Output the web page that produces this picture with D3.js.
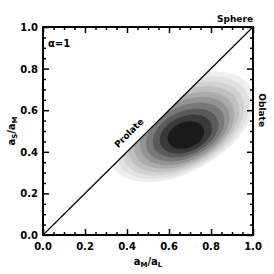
<!DOCTYPE html>
<html>
<head>
  <script src="https://d3js.org/d3.v7.min.js"></script>
  <style>
    body { margin: 0; background: #fff; }
    text { font-family: "DejaVu Sans", sans-serif; font-weight: bold; fill: #000; }
  </style>
</head>
<body>
<div id="chart"></div>
<script>
// axis ticks
const majorTicks = [0.0, 0.2, 0.4, 0.6, 0.8, 1.0];
const tickLabels = ["0.0", "0.2", "0.4", "0.6", "0.8", "1.0"];

// density contours, outer to inner, read as ellipses in data units
const ringCx    = [0.66, 0.663, 0.666, 0.669, 0.672, 0.675, 0.677, 0.679, 0.68, 0.68];
const ringCy    = [0.52, 0.516, 0.512, 0.508, 0.504, 0.50, 0.495, 0.49, 0.485, 0.48];
const ringRx    = [0.38, 0.35, 0.32, 0.29, 0.26, 0.23, 0.20, 0.165, 0.13, 0.09];
const ringRy    = [0.215, 0.20, 0.185, 0.17, 0.155, 0.14, 0.122, 0.104, 0.085, 0.062];
const ringAngle = [30, 30, 30, 30, 29, 28, 27, 25, 23, 20];
const ringGray  = ["#eeeeee", "#e1e1e1", "#d2d2d2", "#c0c0c0", "#ababab", "#939393", "#787878", "#5a5a5a", "#393939", "#1a1a1a"];

const margin = { top: 27, right: 21, bottom: 39, left: 43 };
const width = 274 - margin.left - margin.right;
const height = 274 - margin.top - margin.bottom;

const svg = d3.select("#chart")
  .append("svg")
  .attr("width", 274)
  .attr("height", 274);

const g = svg.append("g")
  .attr("transform", `translate(${margin.left},${margin.top})`);

const x = d3.scaleLinear().domain([0, 1]).range([0, width]);
const y = d3.scaleLinear().domain([0, 1]).range([height, 0]);

// clip to the region below the diagonal
g.append("clipPath").attr("id", "tri")
  .append("path")
  .attr("d", `M${x(0)},${y(0)}L${x(1)},${y(1)}L${x(1)},${y(0)}Z`);

const ellipsePath = i => {
  const a = ringAngle[i] * Math.PI / 180;
  const pts = d3.range(0, 361, 4).map(t => {
    const r = t * Math.PI / 180;
    const ex = ringRx[i] * Math.cos(r), ey = ringRy[i] * Math.sin(r);
    return [x(ringCx[i] + ex * Math.cos(a) - ey * Math.sin(a)),
            y(ringCy[i] + ex * Math.sin(a) + ey * Math.cos(a))];
  });
  return d3.line()(pts) + "Z";
};

g.append("g").attr("clip-path", "url(#tri)")
  .selectAll("path")
  .data(ringCx)
  .enter()
  .append("path")
  .attr("d", (d, i) => ellipsePath(i))
  .attr("fill", (d, i) => ringGray[i]);

// diagonal
g.append("line")
  .attr("x1", x(0)).attr("y1", y(0))
  .attr("x2", x(1)).attr("y2", y(1))
  .attr("stroke", "#000").attr("stroke-width", 1.2);

// axes with inward ticks
const minor = d3.range(0, 1.0001, 0.05);
const axisStyle = (sel) => {
  sel.select(".domain").remove();
  sel.selectAll("line").attr("stroke", "#000").attr("stroke-width", 1.5);
};
const isMajor = d => Math.abs(d * 5 - Math.round(d * 5)) < 1e-6;

g.append("g").attr("transform", `translate(0,${height})`)
  .call(d3.axisBottom(x).tickValues(minor).tickSize(0).tickFormat(""))
  .call(s => s.selectAll(".tick line").attr("y2", d => isMajor(d) ? -6 : -3))
  .call(axisStyle);
g.append("g")
  .call(d3.axisTop(x).tickValues(minor).tickSize(0).tickFormat(""))
  .call(s => s.selectAll(".tick line").attr("y2", d => isMajor(d) ? 6 : 3))
  .call(axisStyle);
g.append("g")
  .call(d3.axisLeft(y).tickValues(minor).tickSize(0).tickFormat(""))
  .call(s => s.selectAll(".tick line").attr("x2", d => isMajor(d) ? 6 : 3))
  .call(axisStyle);
g.append("g").attr("transform", `translate(${width},0)`)
  .call(d3.axisRight(y).tickValues(minor).tickSize(0).tickFormat(""))
  .call(s => s.selectAll(".tick line").attr("x2", d => isMajor(d) ? -6 : -3))
  .call(axisStyle);

// frame
g.append("rect")
  .attr("width", width).attr("height", height)
  .attr("fill", "none").attr("stroke", "#000").attr("stroke-width", 2);

// tick labels
g.selectAll(".xl").data(majorTicks).enter().append("text")
  .attr("x", d => x(d)).attr("y", height + 15)
  .attr("text-anchor", "middle").attr("font-size", 10)
  .text((d, i) => tickLabels[i]);
g.selectAll(".yl").data(majorTicks).enter().append("text")
  .attr("x", -5).attr("y", d => y(d) + 4)
  .attr("text-anchor", "end").attr("font-size", 10)
  .text((d, i) => tickLabels[i]);

// axis titles
g.append("text").attr("x", width / 2).attr("y", height + 30)
  .attr("text-anchor", "middle").attr("font-size", 10)
  .html("a<tspan font-size='7' dy='2'>M</tspan><tspan dy='-2'>/a</tspan><tspan font-size='7' dy='2'>L</tspan>");
g.append("text")
  .attr("transform", `translate(-28,${height / 2}) rotate(-90)`)
  .attr("text-anchor", "middle").attr("font-size", 10)
  .html("a<tspan font-size='7' dy='2'>S</tspan><tspan dy='-2'>/a</tspan><tspan font-size='7' dy='2'>M</tspan>");

// annotations
g.append("text").attr("x", 5).attr("y", 20).attr("font-size", 10).text("α=1");
g.append("text").attr("x", width).attr("y", -5)
  .attr("text-anchor", "end").attr("font-size", 9).text("Sphere");
g.append("text")
  .attr("transform", `translate(${x(0.42)},${y(0.48)}) rotate(-45)`)
  .attr("text-anchor", "middle").attr("font-size", 9).text("Prolate");
g.append("text")
  .attr("transform", `translate(${width + 6},${y(0.6)}) rotate(90)`)
  .attr("text-anchor", "middle").attr("font-size", 9).text("Oblate");
</script>
</body>
</html>
